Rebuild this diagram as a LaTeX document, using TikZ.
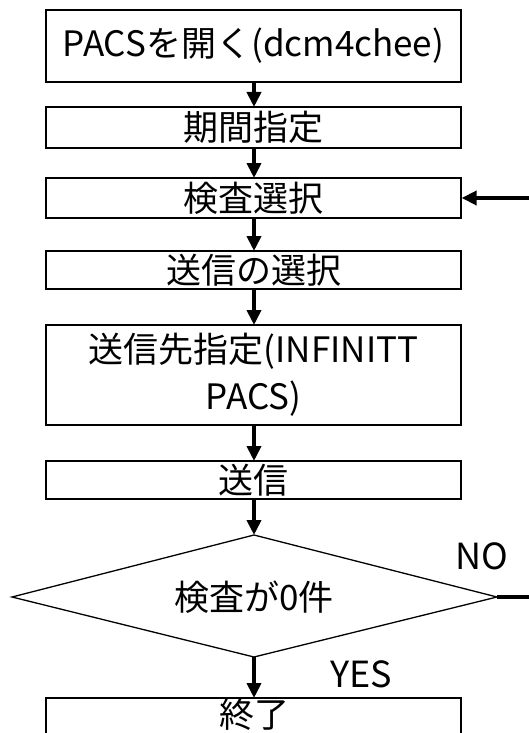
\documentclass[tikz,border=0pt]{standalone}
\usepackage{fontspec}
\setmainfont{Noto Sans CJK JP}
\usetikzlibrary{arrows.meta}
\begin{document}
\begin{tikzpicture}[x=1pt,y=-1pt,
  box/.style={draw, line width=1.3pt, minimum width=415pt, inner sep=0pt, font=\fontsize{35}{47}\selectfont, align=center},
  flow/.style={line width=3.8pt, -{Triangle[length=15pt,width=14pt]}},
  lbl/.style={font=\fontsize{35}{40}\selectfont, inner sep=0pt},
  yn/.style={font=\fontsize{36}{40}\selectfont, inner sep=0pt}]
\useasboundingbox (0,0) rectangle (529,733);
\clip (0,0) rectangle (529,733);
\node[box, minimum height=72pt] (b1) at (253.5,46) {PACSを開く(dcm4chee)};
\node[box, minimum height=41pt] (b2) at (253.5,127.5) {期間指定};
\node[box, minimum height=40pt] (b3) at (253.5,198) {検査選択};
\node[box, minimum height=38pt] (b4) at (253.5,270) {送信の選択};
\node[box, minimum height=100pt] (b5) at (253.5,375) {送信先指定(INFINITT\\PACS)};
\node[box, minimum height=38pt] (b6) at (253.5,480) {送信};
\coordinate (b7n) at (254,698);
\draw[line width=1.3pt] (46,760) -- (46,698) -- (461,698) -- (461,760);
\node[lbl] (b7) at (254,714) {終了};
\coordinate (dt) at (254,535);
\coordinate (db) at (254,657);
\coordinate (dl) at (12,597);
\coordinate (dr) at (497,597);
\draw[line width=1.3pt] (dt) -- (dr) -- (db) -- (dl) -- cycle;
\node[lbl] (dtext) at (254,597) {検査が0件};
\node[yn] (no) at (482,556) {NO};
\node[yn] (yes) at (361,674) {YES};
\coordinate (rin) at (529,198);
\coordinate (rout) at (529,597);
\draw[flow] (b1.south -| 254,0) -- (254,107);
\draw[flow] (b2.south -| 254,0) -- (254,178);
\draw[flow] (b3.south -| 254,0) -- (254,251);
\draw[flow] (b4.south -| 254,0) -- (254,325);
\draw[flow] (b5.south -| 254,0) -- (254,461);
\draw[flow] (b6.south -| 254,0) -- (dt);
\draw[flow] (db) -- (b7n);
\draw[flow] (rin) -- (b3.east);
\draw[line width=3.8pt] (dr) -- (rout);
\end{tikzpicture}
\end{document}
